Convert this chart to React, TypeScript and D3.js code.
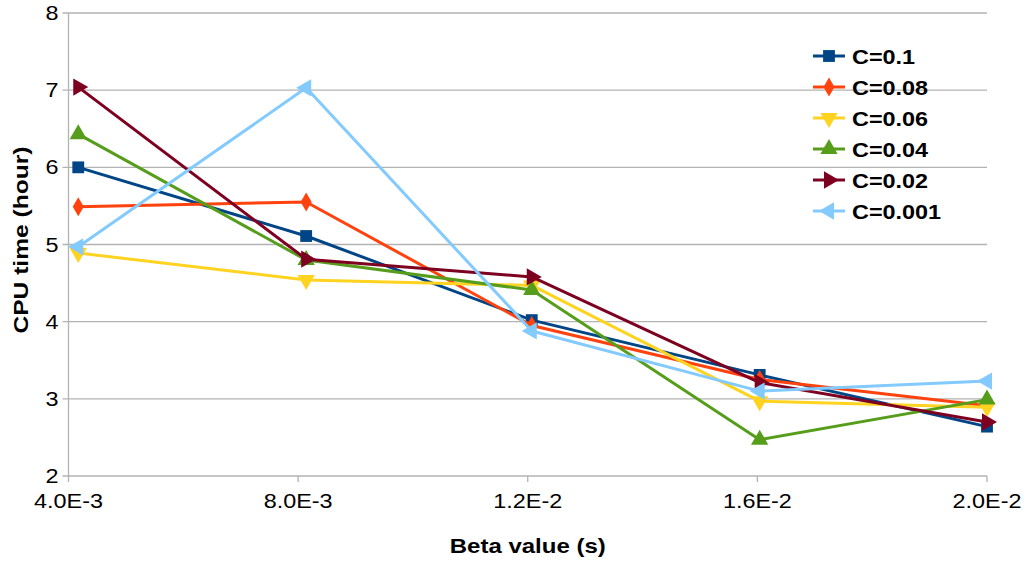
import React from "react";
import * as d3 from "d3";

const betaValues = [0.00417, 0.00814, 0.01207, 0.01604, 0.02];
const xTickValues = [0.004, 0.008, 0.012, 0.016, 0.02];
const xTickLabels = ["4.0E-3", "8.0E-3", "1.2E-2", "1.6E-2", "2.0E-2"];
const yTickValues = [2, 3, 4, 5, 6, 7, 8];

const seriesNames = ["C=0.1", "C=0.08", "C=0.06", "C=0.04", "C=0.02", "C=0.001"];
const c01 = [6.0, 5.11, 4.02, 3.31, 2.64];
const c008 = [5.49, 5.55, 3.95, 3.25, 2.91];
const c006 = [4.89, 4.54, 4.47, 2.97, 2.89];
const c004 = [6.43, 4.8, 4.41, 2.47, 2.99];
const c002 = [7.04, 4.81, 4.58, 3.21, 2.7];
const c0001 = [4.97, 7.03, 3.88, 3.1, 3.23];
const seriesValues = [c01, c008, c006, c004, c002, c0001];
const seriesColors = ["#004586", "#ff420e", "#ffd320", "#579d1c", "#7e0021", "#83caff"];
const markerKinds = ["square", "diamond", "down", "up", "right", "left"];

const W = 1027;
const H = 562;
const M = { left: 68.5, right: 987, top: 13, bottom: 476 };
const SX = 1.2;

function markerPath(kind: string): { d: string; rot: number } {
  if (kind === "square") return { d: d3.symbol(d3.symbolSquare, 140)()!, rot: 0 };
  if (kind === "diamond") return { d: d3.symbol(d3.symbolDiamond, 105)()!, rot: 0 };
  const d = d3.symbol(d3.symbolTriangle, 130)()!;
  const rot = kind === "up" ? 0 : kind === "down" ? 180 : kind === "right" ? 90 : -90;
  return { d, rot };
}

export default function App() {
  const x = d3.scaleLinear().domain([0.004, 0.02]).range([M.left, M.right]);
  const y = d3.scaleLinear().domain([2, 8]).range([M.bottom, M.top]);
  const line = d3
    .line<number>()
    .x((_, i) => x(betaValues[i]))
    .y((v) => y(v));
  const grid = "#b3b3b3";
  const font = "'Liberation Sans', Arial, sans-serif";
  const legendX = 813;
  const legendY0 = 56;
  const legendStep = 31;

  return (
    <svg
      width={W}
      height={H}
      style={{ position: "absolute", left: 0, top: 0, background: "#fff" }}
      fontFamily={font}
    >
      <rect x={0} y={0} width={W} height={H} fill="#fff" />
      {yTickValues.map((t) => (
        <g key={"gy" + t}>
          <line x1={M.left - 6} x2={M.right} y1={y(t)} y2={y(t)} stroke={grid} strokeWidth={1.3} />
          <text
            transform={`translate(${M.left - 10},${y(t) + 7}) scale(${SX},1)`}
            textAnchor="end"
            fontSize={19.5}
            fill="#000"
          >
            {t}
          </text>
        </g>
      ))}
      <line x1={M.left} x2={M.left} y1={M.top} y2={M.bottom} stroke={grid} strokeWidth={1.3} />
      {xTickValues.map((t, i) => (
        <g key={"gx" + i}>
          <line x1={x(t)} x2={x(t)} y1={M.bottom} y2={M.bottom + 6} stroke={grid} strokeWidth={1.3} />
          <text
            transform={`translate(${x(t)},${M.bottom + 32}) scale(${SX},1)`}
            textAnchor="middle"
            fontSize={19.5}
            fill="#000"
          >
            {xTickLabels[i]}
          </text>
        </g>
      ))}
      {seriesValues.map((vals, si) => {
        const mk = markerPath(markerKinds[si]);
        return (
          <g key={"s" + si}>
            <path d={line(vals)!} fill="none" stroke={seriesColors[si]} strokeWidth={3} strokeLinejoin="round" />
            {vals.map((v, i) => (
              <path
                key={i}
                d={mk.d}
                fill={seriesColors[si]}
                transform={`translate(${x(betaValues[i])},${y(v)}) rotate(${mk.rot})`}
              />
            ))}
          </g>
        );
      })}
      {seriesNames.map((name, si) => {
        const mk = markerPath(markerKinds[si]);
        const cy = legendY0 + si * legendStep;
        return (
          <g key={"l" + si}>
            <line x1={legendX} x2={legendX + 32} y1={cy} y2={cy} stroke={seriesColors[si]} strokeWidth={3} />
            <path d={mk.d} fill={seriesColors[si]} transform={`translate(${legendX + 16},${cy}) rotate(${mk.rot})`} />
            <text
              transform={`translate(${legendX + 39},${cy + 7.5}) scale(1.17,1)`}
              fontSize={20}
              fontWeight="bold"
              fill="#000"
            >
              {name}
            </text>
          </g>
        );
      })}
      <text
        transform={`translate(${(M.left + M.right) / 2},${553}) scale(${SX},1)`}
        textAnchor="middle"
        fontSize={20}
        fontWeight="bold"
        fill="#000"
      >
        Beta value (s)
      </text>
      <text
        transform={`translate(${28},${240}) rotate(-90) scale(1.23,1)`}
        textAnchor="middle"
        fontSize={20}
        fontWeight="bold"
        fill="#000"
      >
        CPU time (hour)
      </text>
    </svg>
  );
}
